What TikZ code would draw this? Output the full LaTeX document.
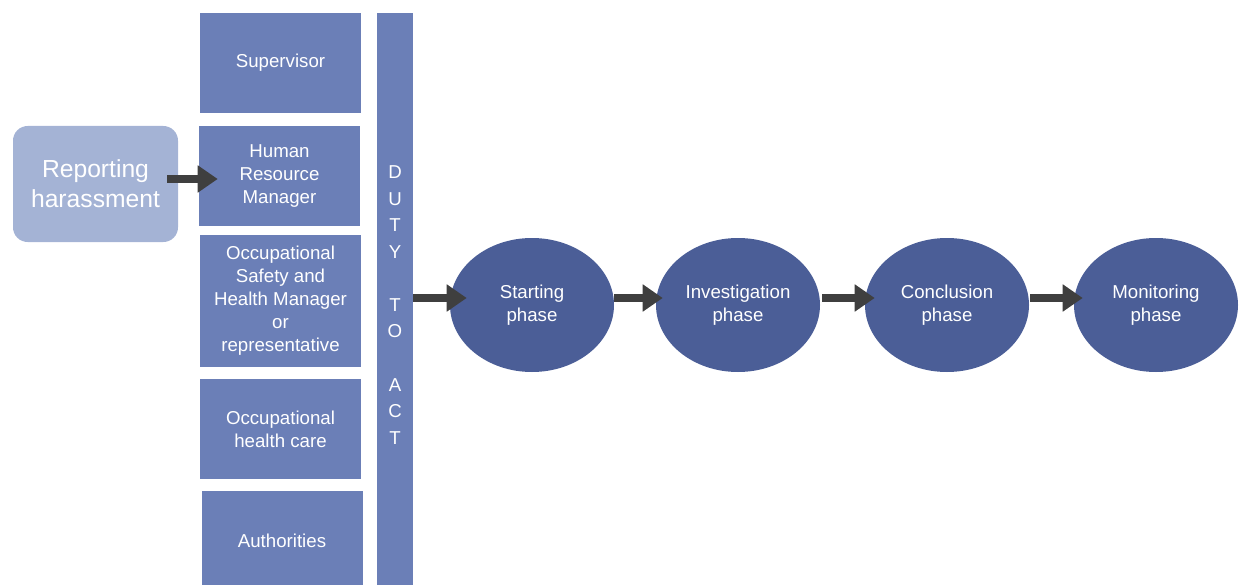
\documentclass[tikz,border=0pt]{standalone}
\usepackage{fontspec}
\setmainfont{Liberation Sans}
\usepackage{tikz}
\usetikzlibrary{arrows.meta,shapes.geometric,positioning}
\definecolor{boxblue}{HTML}{6B7FB7}
\definecolor{phaseblue}{HTML}{4B5E97}
\definecolor{reportblue}{HTML}{A4B3D5}
\definecolor{arrowgray}{HTML}{3F3F3F}

\begin{document}
\begin{tikzpicture}[x=0.75pt,y=-0.75pt,
  role/.style={fill=boxblue,text=white,minimum width=120.75pt,minimum height=75pt,inner sep=0pt,align=center,font=\fontsize{14}{17.25}\selectfont},
  phase/.style={ellipse,fill=phaseblue,text=white,minimum width=123pt,minimum height=100.5pt,inner sep=0pt,align=center,font=\fontsize{14}{17.25}\selectfont},
  flow/.style={arrowgray,line width=6pt,-{Triangle[width=19.5pt,length=15pt]}}]
  \clip (0,0) rectangle (1243,585);
  % who can be told
  \node[fill=reportblue,text=white,rounded corners=11pt,minimum width=123.75pt,minimum height=87pt,align=center,font=\fontsize{18.5}{22.5}\selectfont] (rep) at (95.5,184) {Reporting\\harassment};
  \node[role] (sup) at (280.5,63) {Supervisor};
  \node[role] (hr) at (279.5,176) {Human\\Resource\\Manager};
  \node[role,minimum height=99pt] (osh) at (280.5,301) {Occupational\\Safety and\\Health Manager\\or\\representative};
  \node[role] (ohc) at (280.5,429) {Occupational\\health care};
  \node[role] (auth) at (282,541) {Authorities};
  \node[fill=boxblue,text=white,minimum width=27pt,minimum height=438pt,inner sep=0pt,align=center,font=\fontsize{14}{19.9}\selectfont] (duty) at (395,305) {D\\U\\T\\Y\\~\\T\\O\\~\\A\\C\\T};
  % phases
  \node[phase] (start) at (532,305) {Starting\\phase};
  \node[phase] (inv) at (738,305) {Investigation\\phase};
  \node[phase] (con) at (947,305) {Conclusion\\phase};
  \node[phase] (mon) at (1156,305) {Monitoring\\phase};
  \draw[flow] ([xshift=-8.25pt,yshift=3.75pt]rep.east) -- ([xshift=14.25pt,yshift=-2.25pt]hr.west);
  \draw[flow] ([yshift=5.25pt]duty.east) -- ([xshift=12.75pt,yshift=5.25pt]start.west);
  \draw[flow] ([yshift=5.25pt]start.east) -- ([xshift=5.25pt,yshift=5.25pt]inv.west);
  \draw[flow] ([xshift=1.5pt,yshift=5.25pt]inv.east) -- ([xshift=7.5pt,yshift=5.25pt]con.west);
  \draw[flow] ([xshift=0.75pt,yshift=5.25pt]con.east) -- ([xshift=6.75pt,yshift=5.25pt]mon.west);
\end{tikzpicture}
\end{document}
